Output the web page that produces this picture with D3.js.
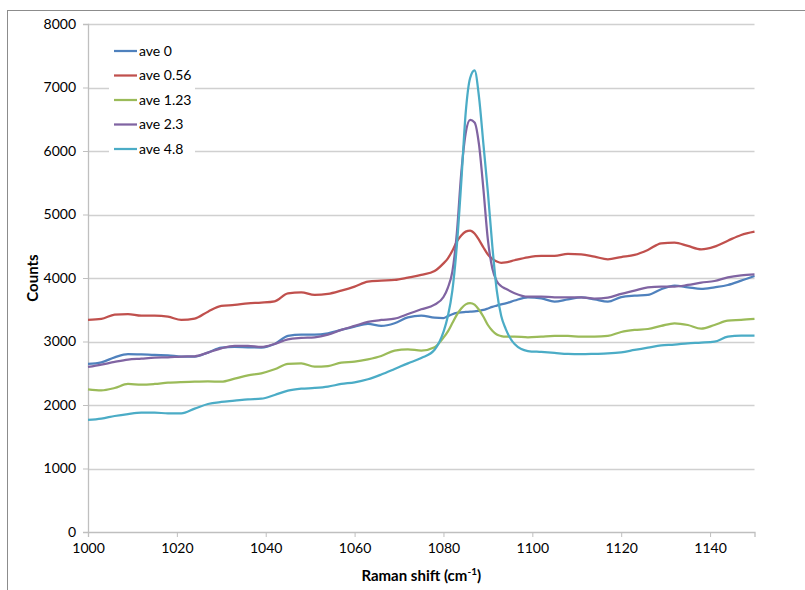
<!DOCTYPE html>
<html>
<head>
<meta charset="utf-8">
<script src="https://cdn.jsdelivr.net/npm/d3@7"></script>
<style>
  body { margin: 0; background: #fff; }
  text { font-family: Lato, "Open Sans", sans-serif; fill: #000; }
</style>
</head>
<body>
<script>
// Raman shift (cm-1)
let shift = [1000,1003,1006,1009,1012,1015,1018,1021,1024,1027,1030,1033,1036,1039,1042,1045,1048,1051,1054,1057,
  1060,1063,1066,1069,1072,1075,1078,1080,1081,1082,1083,1084,1085,1086,1087,1088,1089,1090,1091,1092,1093,1094,
  1096,1099,1102,1105,1108,1111,1114,1117,1120,1123,1126,1129,1132,1135,1138,1141,1144,1147,1150];

let ave0 = [2646,2672,2751,2803,2798,2788,2783,2762,2762,2825,2903,2914,2908,2905,2961,3087,3108,3108,3129,3182,
  3234,3276,3245,3287,3381,3407,3375,3370,3400,3430,3450,3460,3465,3470,3475,3485,3497,3520,3545,3565,3585,3600,
  3645,3696,3680,3627,3664,3696,3664,3627,3700,3722,3733,3822,3880,3854,3827,3854,3890,3958,4032];

let ave056 = [3340,3355,3423,3433,3407,3407,3391,3339,3360,3470,3560,3575,3602,3612,3633,3759,3775,3733,3749,3801,
  3864,3943,3958,3969,4006,4048,4110,4230,4310,4430,4573,4670,4730,4746,4700,4600,4480,4370,4300,4260,4240,4245,
  4280,4326,4347,4347,4379,4373,4336,4295,4330,4363,4442,4547,4557,4505,4452,4494,4588,4678,4730];

let ave123 = [2247,2231,2268,2331,2320,2331,2352,2362,2367,2373,2367,2415,2467,2499,2562,2646,2656,2604,2614,2667,
  2683,2719,2772,2856,2877,2856,2909,3060,3160,3290,3420,3520,3585,3605,3580,3500,3390,3260,3170,3110,3085,3075,
  3076,3066,3076,3087,3087,3076,3076,3087,3150,3182,3197,3245,3287,3260,3202,3260,3328,3339,3355];

let ave23 = [2599,2636,2678,2714,2730,2746,2751,2762,2767,2825,2893,2930,2930,2914,2961,3035,3056,3066,3108,3182,
  3245,3308,3339,3360,3433,3507,3580,3700,3850,4100,4700,5650,6280,6490,6450,6100,5390,4600,4150,3950,3870,3830,
  3760,3706,3706,3696,3696,3696,3675,3690,3750,3801,3854,3864,3864,3890,3927,3953,4011,4043,4058];

let ave48 = [1764,1785,1827,1858,1879,1879,1869,1869,1942,2016,2048,2068,2090,2100,2158,2226,2257,2268,2289,2331,
  2357,2405,2480,2567,2656,2740,2870,3150,3400,3800,4500,5500,6600,7150,7270,6850,6100,5350,4500,3800,3400,3200,
  2960,2850,2835,2820,2805,2800,2805,2812,2830,2867,2903,2940,2951,2972,2982,2998,3076,3092,3092];

let seriesNames = ['ave 0', 'ave 0.56', 'ave 1.23', 'ave 2.3', 'ave 4.8'];
let seriesValues = [ave0, ave056, ave123, ave23, ave48];
let colours = ['#4F81BD', '#C0504D', '#9BBB59', '#8064A2', '#4BACC6'];

let xTicks = [1000, 1020, 1040, 1060, 1080, 1100, 1120, 1140];
let yTicks = [0, 1000, 2000, 3000, 4000, 5000, 6000, 7000, 8000];

let width = 805, height = 590;
let plotLeft = 88, plotRight = 754.5, plotTop = 24, plotBottom = 532;

let svg = d3.select('body').append('svg')
  .attr('width', width)
  .attr('height', height);

// chart border (runs off the right and bottom of the picture)
svg.append('rect')
  .attr('x', 7.5).attr('y', 10.5)
  .attr('width', 900).attr('height', 700)
  .attr('fill', 'none')
  .attr('stroke', '#8c8c8c');

let x = d3.scaleLinear().domain([1000, 1150]).range([plotLeft, plotRight]);
let y = d3.scaleLinear().domain([0, 8000]).range([plotBottom, plotTop]);

// gridlines
svg.append('g').selectAll('line')
  .data(yTicks.filter(d => d > 0))
  .enter().append('line')
  .attr('x1', plotLeft).attr('x2', plotRight)
  .attr('y1', d => Math.round(y(d)) + 0.5).attr('y2', d => Math.round(y(d)) + 0.5)
  .attr('stroke', '#d0d0d0')
  .attr('stroke-width', 1.3);

let yAxis = svg.append('g')
  .attr('transform', 'translate(' + plotLeft + ',0)')
  .call(d3.axisLeft(y).tickValues(yTicks).tickSize(5).tickPadding(7).tickFormat(d3.format('d')));

let xAxis = svg.append('g')
  .attr('transform', 'translate(0,' + plotBottom + ')')
  .call(d3.axisBottom(x).tickValues(xTicks).tickSize(5).tickPadding(6).tickFormat(d3.format('d')));

[xAxis, yAxis].forEach(function (g) {
  g.select('.domain').attr('stroke', '#bfbfbf').attr('stroke-width', 1.3);
  g.selectAll('.tick line').attr('stroke', '#bfbfbf');
  g.selectAll('.tick text').attr('font-size', 14).attr('fill', '#000')
    .style('font-family', 'Lato, sans-serif');
});

// legend box hides the gridlines under it
svg.append('rect')
  .attr('x', 109).attr('y', 33)
  .attr('width', 86).attr('height', 132)
  .attr('fill', '#fff');

let line = d3.line()
  .x((d, i) => x(shift[i]))
  .y(d => y(d))
  .curve(d3.curveMonotoneX);

svg.append('g').selectAll('path')
  .data(seriesValues)
  .enter().append('path')
  .attr('d', line)
  .attr('fill', 'none')
  .attr('stroke', (d, i) => colours[i])
  .attr('stroke-width', 2.25)
  .attr('stroke-linejoin', 'round');

let legend = svg.append('g').selectAll('g')
  .data(seriesNames)
  .enter().append('g')
  .attr('transform', (d, i) => 'translate(114,' + (51 + i * 24.5) + ')');

legend.append('line')
  .attr('x1', 0).attr('x2', 23)
  .attr('stroke', (d, i) => colours[i])
  .attr('stroke-width', 2.25);

legend.append('text')
  .attr('x', 25).attr('dy', '0.35em')
  .attr('font-size', 14)
  .text(d => d);

// axis titles
svg.append('text')
  .attr('transform', 'translate(38,' + ((plotTop + plotBottom) / 2) + ') rotate(-90)')
  .attr('text-anchor', 'middle')
  .attr('font-size', 15)
  .attr('font-weight', 'bold')
  .text('Counts');

let xTitle = svg.append('text')
  .attr('x', (plotLeft + plotRight) / 2).attr('y', 581)
  .attr('text-anchor', 'middle')
  .attr('font-size', 15)
  .attr('font-weight', 'bold');
xTitle.append('tspan').text('Raman shift (cm');
xTitle.append('tspan').attr('font-size', 10).attr('dy', -6).text('-1');
xTitle.append('tspan').attr('dy', 6).text(')');
</script>
</body>
</html>
